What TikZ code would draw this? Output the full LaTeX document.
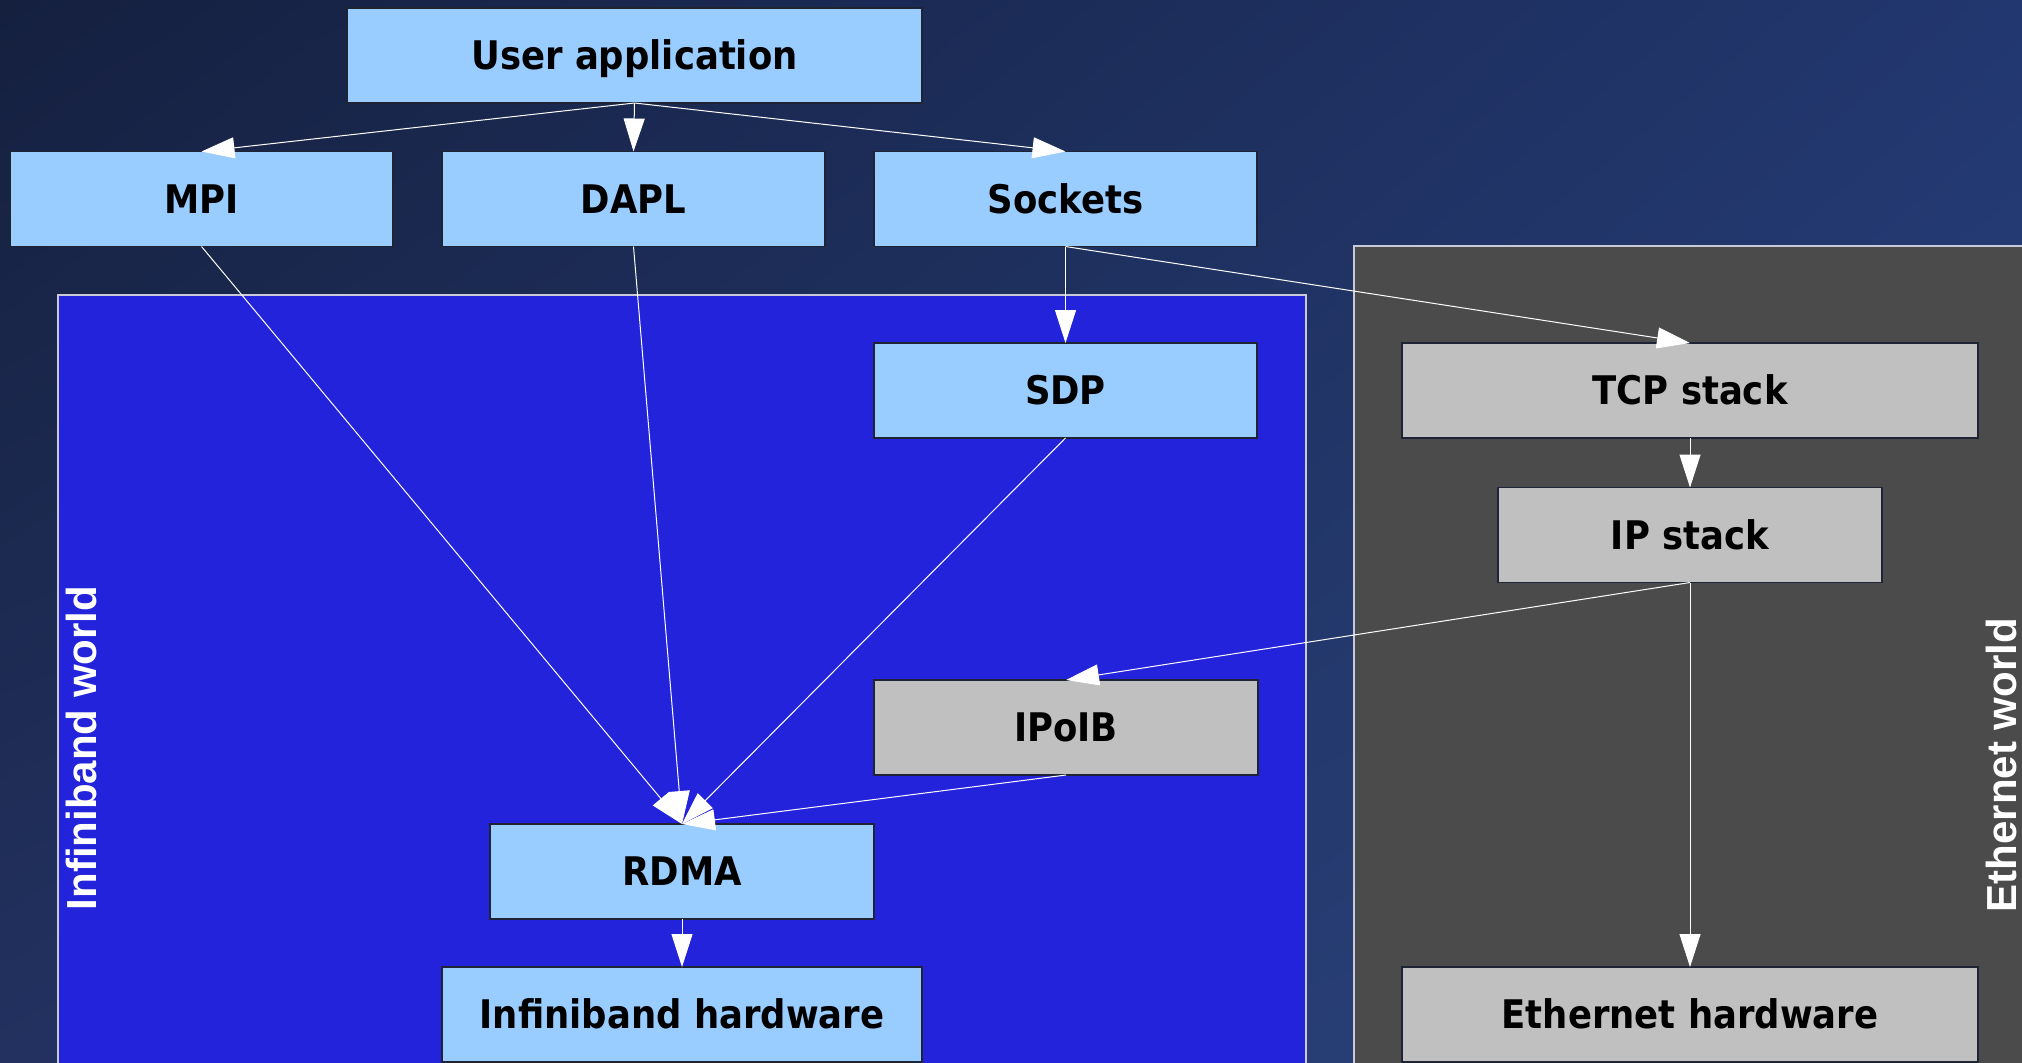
\documentclass[tikz,border=0pt]{standalone}
\usepackage{fontspec}
\usetikzlibrary{arrows.meta,shadings}
\newfontfamily\boxfont[FakeStretch=0.9]{DejaVu Sans}
\newfontfamily\worldfont{Liberation Sans}
\definecolor{bgTL}{HTML}{15203F}
\definecolor{bgTRc}{HTML}{22376F}
\definecolor{bgBL}{HTML}{22315F}
\definecolor{bgBR}{HTML}{2A4580}
\definecolor{ibfill}{HTML}{2323DC}
\definecolor{ethfill}{HTML}{4B4B4B}
\definecolor{boxblue}{HTML}{99CCFF}
\definecolor{boxgray}{HTML}{C0C0C0}
\definecolor{boxline}{HTML}{1E2433}
\definecolor{worldline}{HTML}{C8CAD8}
\begin{document}
\begin{tikzpicture}[x=0.5pt,y=-0.5pt,
  layer/.style={draw=boxline, line width=0.6pt, inner sep=0pt, outer sep=0pt,
    minimum height=47.5pt, text height=14.36pt, text depth=0pt,
    font=\boxfont\bfseries\fontsize{19.7pt}{22pt}\selectfont, text=black},
  blue/.style={layer, fill=boxblue},
  grey/.style={layer, fill=boxgray},
  world/.style={draw=worldline, line width=0.6pt},
  worldlabel/.style={rotate=90, inner sep=0pt, text=white,
    font=\worldfont\bfseries\fontsize{21pt}{24pt}\selectfont},
  conn/.style={draw=white, line width=0.5pt,
    -{Triangle[length=16.5pt,width=10.5pt,fill=white]}}
]
\useasboundingbox (0,0) rectangle (2022,1062);
\clip (0,0) rectangle (2022,1062);
% background
\shade[upper left=bgTL, upper right=bgTRc, lower left=bgBL, lower right=bgBR]
  (0,0) rectangle (2022,1062);
% worlds
\path[world, fill=ibfill] (58,295) rectangle (1306,1080);
\path[world, fill=ethfill] (1354,246) rectangle (2040,1080);
\node[worldlabel] (ibl) at (81.5,748) {Infiniband world};
\node[worldlabel] (ethl) at (2001,765) {Ethernet world};
% boxes
\node[blue, minimum width=287.5pt] (app) at (634.5,55.5) {User application};
\node[blue, minimum width=191.5pt] (mpi) at (201.5,199) {MPI};
\node[blue, minimum width=191.5pt] (dapl) at (633.5,199) {DAPL};
\node[blue, minimum width=191.5pt] (sock) at (1065.5,199) {Sockets};
\node[blue, minimum width=191.5pt] (sdp) at (1065.5,390.5) {SDP};
\node[grey, minimum width=288pt] (tcp) at (1690,390.5) {TCP stack};
\node[grey, minimum width=192pt] (ip) at (1690,535) {IP stack};
\node[grey, minimum width=192pt] (ipoib) at (1066,727.5) {IPoIB};
\node[blue, minimum width=192pt] (rdma) at (682,871.5) {RDMA};
\node[blue, minimum width=240pt] (ibhw) at (682,1014.5) {Infiniband hardware};
\node[grey, minimum width=288pt] (ethhw) at (1690,1014.5) {Ethernet hardware};
% connectors
\path[conn] (app.south) -- (mpi.north);
\path[conn] (app.south) -- (dapl.north);
\path[conn] (app.south) -- (sock.north);
\path[conn] (mpi.south) -- (rdma.north);
\path[conn] (dapl.south) -- (rdma.north);
\path[conn] (sock.south) -- (sdp.north);
\path[conn] (sock.south) -- (tcp.north);
\path[conn] (sdp.south) -- (rdma.north);
\path[conn] (tcp.south) -- (ip.north);
\path[conn] (ip.south) -- (ipoib.north);
\path[conn] (ip.south) -- (ethhw.north);
\path[conn] (ipoib.south) -- (rdma.north);
\path[conn] (rdma.south) -- (ibhw.north);
\end{tikzpicture}
\end{document}
